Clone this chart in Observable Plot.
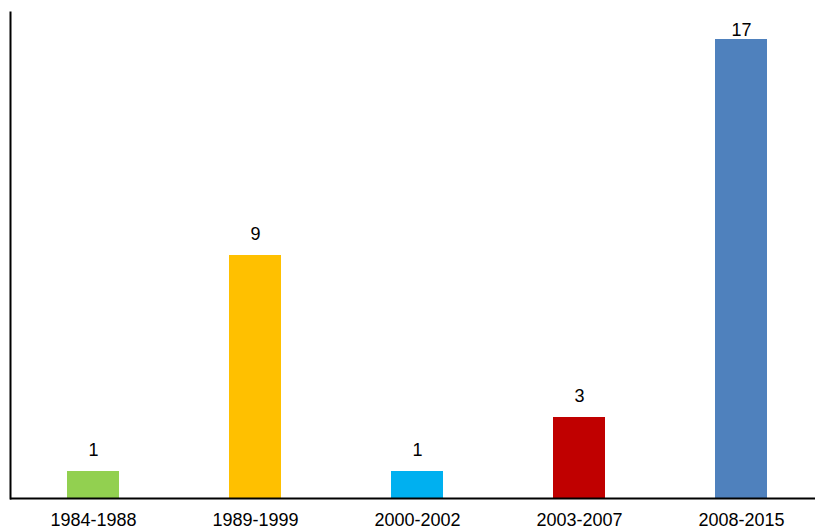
<!DOCTYPE html>
<html><head><meta charset="utf-8">
<script src="https://cdn.jsdelivr.net/npm/d3@7"></script>
<script src="https://cdn.jsdelivr.net/npm/@observablehq/plot@0.6"></script>
<style>body{margin:0;background:#fff;overflow:hidden}</style>
</head><body><div id="chart"></div>
<script>
const periods = ["1984-1988","1989-1999","2000-2002","2003-2007","2008-2015"];
const counts = [1, 9, 1, 3, 17];
const colors = ["#92D050","#FFC000","#00B0F0","#C00000","#4F81BD"];
const data = periods.map((p,i)=>({period:p, count:counts[i], color:colors[i]}));
const maxCount = d3.max(counts);
const chart = Plot.plot({
  width: 815, height: 530,
  marginLeft: 10, marginRight: 0, marginTop: 12, marginBottom: 32,
  style: {fontFamily: "'Liberation Sans', Helvetica, Arial, sans-serif", fontSize: "18px", color: "#000"},
  x: {domain: periods, range: [11, 822], paddingInner: 0.68, paddingOuter: 0.34, align: 0.5, label: null},
  y: {domain: [0, 18], axis: null},
  marks: [
    Plot.barY(data, {x: "period", y: "count", fill: "color"}),
    Plot.text(data.filter(d => d.count < maxCount), {x: "period", y: "count", text: d => String(d.count), lineAnchor: "bottom", dy: -16, fontSize: 18, fill: "#000"}),
    Plot.text(data.filter(d => d.count === maxCount), {x: "period", y: "count", text: d => String(d.count), lineAnchor: "bottom", dy: -4, fontSize: 18, fill: "#000"}),
    Plot.axisX({tickSize: 0, tickPadding: 15, fontSize: 18}),
    Plot.ruleY([0], {stroke: "#000", strokeWidth: 2}),
    Plot.frame({anchor: "left", stroke: "#000", strokeWidth: 2})
  ]
});
document.getElementById("chart").append(chart);
</script></body></html>
